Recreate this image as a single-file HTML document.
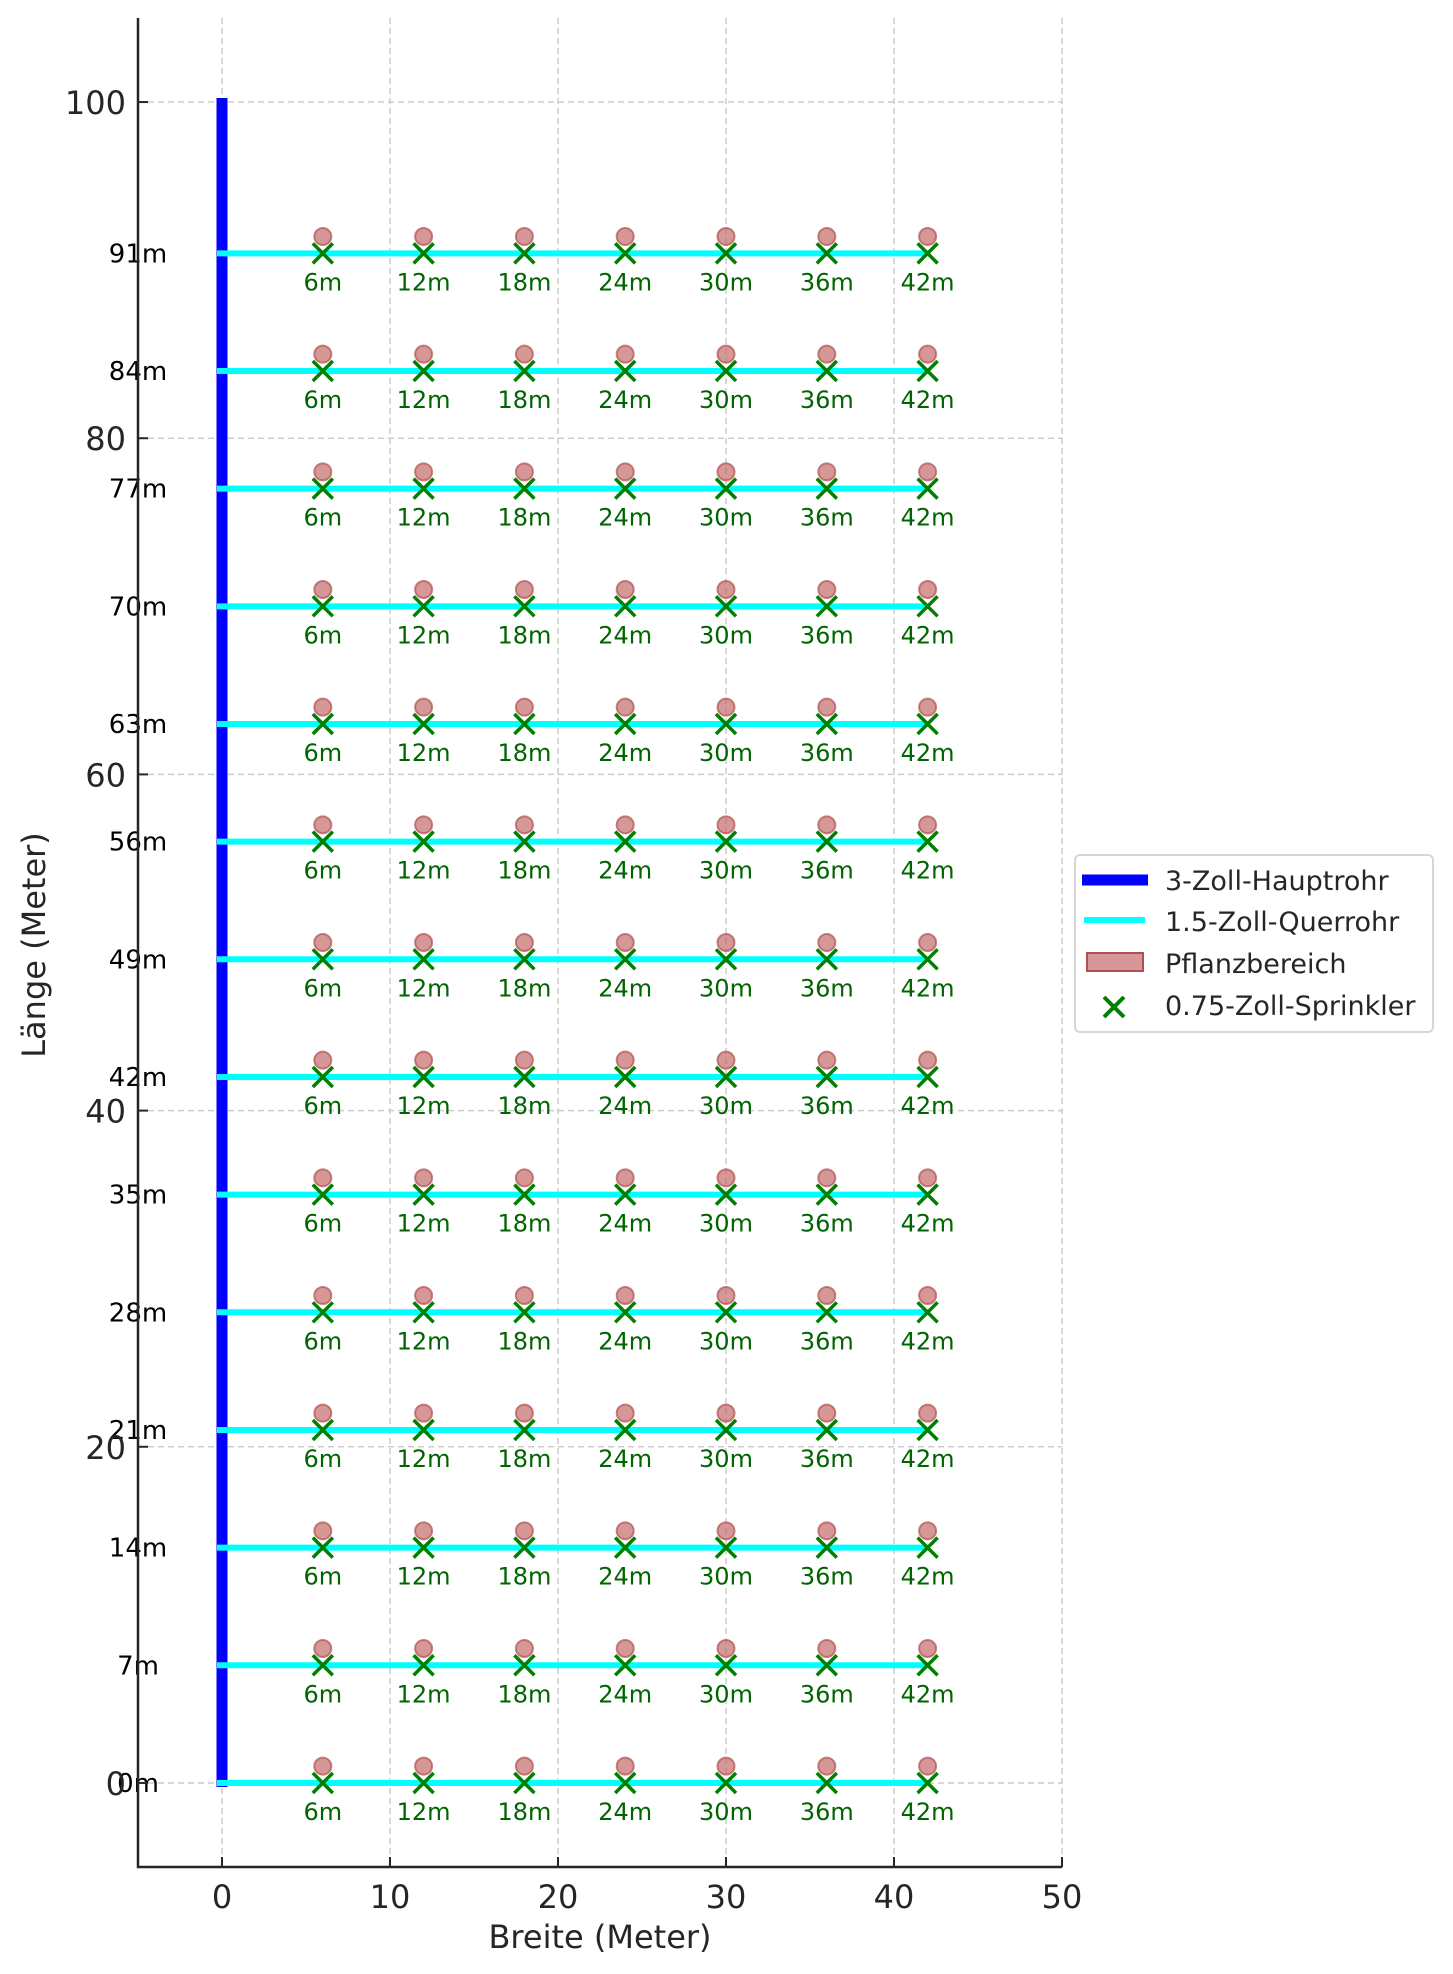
<!DOCTYPE html>
<html><head><meta charset="utf-8"><style>
html,body{margin:0;padding:0;background:#fff;}
svg{display:block;font-family:"DejaVu Sans","Liberation Sans",sans-serif;}
</style></head><body>
<svg id="chart" width="1453" height="1974" viewBox="0 0 1453 1974">
<g id="grid"></g>
<g id="marks"></g>
<g id="axes"></g>
<text x="600" y="1948" font-size="32" text-anchor="middle" fill="#262626">Breite (Meter)</text>
<text x="0" y="0" font-size="32" text-anchor="middle" fill="#262626" transform="translate(45,945) rotate(-90)">Länge (Meter)</text>
<g>
<rect x="1075" y="855" width="358" height="177" rx="5" fill="#fff" stroke="#d6d6d6" stroke-width="2"/>
<line x1="1082" y1="880" x2="1148" y2="880" stroke="#0000ff" stroke-width="11"/>
<text x="1165" y="890" font-size="27" fill="#262626">3-Zoll-Hauptrohr</text>
<line x1="1084" y1="920" x2="1145" y2="920" stroke="#00ffff" stroke-width="6"/>
<text x="1165" y="931" font-size="27" fill="#262626">1.5-Zoll-Querrohr</text>
<rect x="1087" y="953" width="56" height="18" fill="#c06060" fill-opacity="0.65" stroke="#b05050" stroke-width="2"/>
<text x="1165" y="973" font-size="27" fill="#262626">Pflanzbereich</text>
<path d="M1104 997 L1124 1017 M1124 997 L1104 1017" stroke="#008000" stroke-width="4"/>
<text x="1165" y="1015" font-size="27" fill="#262626">0.75-Zoll-Sprinkler</text>
</g>
</svg>
<script>
const rowPositions = [0, 7, 14, 21, 28, 35, 42, 49, 56, 63, 70, 77, 84, 91];
const sprinklerPositions = [6, 12, 18, 24, 30, 36, 42];
const mainPipeRange = [0, 100];
const lateralLength = 42;
const xTicks = [0, 10, 20, 30, 40, 50];
const yTicks = [0, 20, 40, 60, 80, 100];
const plantOffset = 1;

const NS = "http://www.w3.org/2000/svg";
const X0 = 138, X1 = 1062, Y0 = 18, Y1 = 1867;
const xmin = -5, xmax = 50, ymin = -5, ymax = 105;
const sx = v => X0 + (v - xmin) / (xmax - xmin) * (X1 - X0);
const sy = v => Y1 - (v - ymin) / (ymax - ymin) * (Y1 - Y0);
function mk(tag, attrs, parent, text) {
  const e = document.createElementNS(NS, tag);
  for (const k in attrs) e.setAttribute(k, attrs[k]);
  if (text !== undefined) e.textContent = text;
  parent.appendChild(e);
  return e;
}
const grid = document.getElementById('grid');
const marks = document.getElementById('marks');
const axes = document.getElementById('axes');

xTicks.forEach(t => {
  const g = mk('line', {x1: sx(t), x2: sx(t), y1: Y0, y2: Y1, stroke: '#cccccc', 'stroke-width': 1.5, 'stroke-dasharray': '6,4'}, grid);
  
  
  const tk = mk('line', {x1: sx(t), x2: sx(t), y1: Y1, y2: Y1 - 10, stroke: '#262626', 'stroke-width': 2}, axes);
  
  
  const lb = mk('text', {x: sx(t), y: Y1 + 41, 'font-size': 32, 'text-anchor': 'middle', fill: '#262626'}, axes, String(t));
  
  
});
yTicks.forEach(t => {
  const g = mk('line', {x1: X0, x2: X1, y1: sy(t), y2: sy(t), stroke: '#cccccc', 'stroke-width': 1.5, 'stroke-dasharray': '6,4'}, grid);
  
  
  const tk = mk('line', {x1: X0, x2: X0 + 10, y1: sy(t), y2: sy(t), stroke: '#262626', 'stroke-width': 2}, axes);
  
  
  const lb = mk('text', {x: X0 - 12, y: sy(t) + 12, 'font-size': 32, 'text-anchor': 'end', fill: '#262626'}, axes, String(t));
  
  
});
const sp = mk('path', {d: `M${X0} ${Y0} V${Y1} H${X1}`, fill: 'none', stroke: '#262626', 'stroke-width': 2.5}, axes);



const mp = mk('line', {x1: sx(0), x2: sx(0), y1: sy(mainPipeRange[0]) + 4, y2: sy(mainPipeRange[1]) - 4, stroke: '#0000ff', 'stroke-width': 11}, marks);



rowPositions.forEach(r => {
  const y = sy(r);
  const ln = mk('line', {x1: sx(0) - 5, x2: sx(lateralLength), y1: y, y2: y, stroke: '#00ffff', 'stroke-width': 6}, marks);
  
  
  sprinklerPositions.forEach(s => {
    const x = sx(s);
    const c = mk('circle', {cx: x, cy: sy(r + plantOffset), r: 8.5, fill: '#c06060', 'fill-opacity': 0.65, stroke: '#b05050', 'stroke-opacity': 0.7, 'stroke-width': 2}, marks);
    
    
    const m = mk('path', {d: `M${x-10} ${y-10} L${x+10} ${y+10} M${x+10} ${y-10} L${x-10} ${y+10}`, stroke: '#008000', 'stroke-width': 3.5}, marks);
    
    
    const t = mk('text', {x: x, y: y + 37, 'font-size': 24, 'text-anchor': 'middle', fill: '#006400'}, marks, s + 'm');
    
    
  });
  const rl = mk('text', {x: sx(-5), y: y + 9, 'font-size': 26, 'text-anchor': 'middle', fill: '#000'}, marks, r + 'm');
  
  
});
</script>
</body></html>
